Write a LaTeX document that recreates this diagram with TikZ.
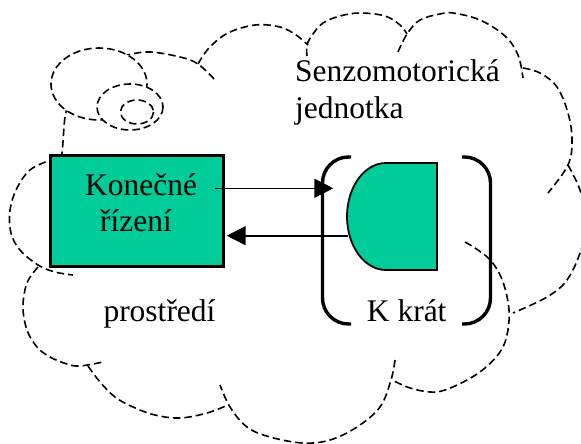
\documentclass[tikz,border=0pt]{standalone}
\usepackage{fontspec}
\setmainfont{Liberation Serif}
\usetikzlibrary{arrows.meta}
\definecolor{mygreen}{RGB}{0,204,153}
\begin{document}
\begin{tikzpicture}[x=1pt,y=-1pt,
  cloudline/.style={line width=1.6pt, dash pattern=on 7.5pt off 4pt},
  bubble/.style={cloudline, fill=white},
  lbl/.style={font=\fontsize{31.5}{36}\selectfont, inner sep=0pt, anchor=base west},
  bracketline/.style={line width=3.4pt, rounded corners=26pt},
  conn/.style={line width=1.6pt, -{Triangle[length=19pt,width=19pt]}},
  gshape/.style={fill=mygreen, draw=black}
]
\useasboundingbox (0,0) rectangle (581,444);

% cloud lobes
\draw[cloudline] plot[smooth, tension=0.6] coordinates {(112,60) (127,55) (150,52) (180,57) (198,64) (215,80)};
\draw[cloudline] plot[smooth, tension=0.6] coordinates {(198,64) (209,48) (228,33) (255,25) (280,27) (296,35) (308,45)};
\draw[cloudline] plot[smooth, tension=0.6] coordinates {(307,56) (307,45) (313,34) (323,23) (340,16) (360,13) (385,16) (400,25) (407,34)};
\draw[cloudline] plot[smooth, tension=0.6] coordinates {(398,52) (407,34) (420,20) (440,14) (453,13) (480,20) (505,36) (518,55) (523,78)};
\draw[cloudline] plot[smooth, tension=0.6] coordinates {(523,68) (540,73) (557,87) (568,113) (572,140) (568,165) (548,193)};
\draw[cloudline] plot[smooth, tension=0.6] coordinates {(568,165) (580,190) (586,220) (581,250) (567,280) (547,297) (513,313)};
\draw[cloudline] plot[smooth, tension=0.6] coordinates {(465,242) (478,250) (492,262) (503,282) (509,310) (507,335) (500,352) (485,368) (467,380) (445,390) (430,392) (410,388) (392,380)};
\draw[cloudline] plot[smooth, tension=0.6] coordinates {(395,360) (391,380) (380,407) (357,427) (330,440) (303,443) (270,437) (247,427) (230,407) (220,385)};
\draw[cloudline] plot[smooth, tension=0.6] coordinates {(88,366) (100,382) (115,397) (133,407) (155,415) (180,418) (207,413) (228,405)};
\draw[cloudline] plot[smooth, tension=0.6] coordinates {(38,267) (27,283) (23,307) (27,330) (37,347) (50,357) (67,364) (80,366) (103,362)};
\draw[cloudline] plot[smooth, tension=0.6] coordinates {(56,157) (50,160) (30,170) (17,188) (10,210) (11,233) (20,250) (38,265) (55,272) (73,275)};
\draw[cloudline] plot[smooth, tension=0.6] coordinates {(58,170) (62,153) (65,117) (70,100)};

% callout bubbles
\draw[bubble] (99,84) ellipse [x radius=48, y radius=36];
\draw[bubble] (130,107) ellipse [x radius=33, y radius=23];
\draw[bubble] (137,112) ellipse [x radius=16.5, y radius=12];

% brackets
\draw[bracketline] (351,157) -- (322.5,157) -- (322.5,324) -- (351,324);
\draw[bracketline] (462,157) -- (490.5,157) -- (490.5,324) -- (462,324);

% D shape
\draw[gshape, line width=1.8pt] (437,163) -- (386,163)
  .. controls (364.5,163) and (347,187) .. (347,216.5)
  .. controls (347,246) and (364.5,270) .. (386,270) -- (437,270) -- cycle;

% control box
\node[gshape, line width=2.6pt, minimum width=172.8pt, minimum height=111.2pt, inner sep=0pt, outer sep=0pt] (ctrl) at (137.1,211.1) {};

% connectors
\coordinate (a1s) at (215,188.3);
\coordinate (a1e) at (333.3,188.3);
\coordinate (a2s) at (348,235.7);
\coordinate (a2e) at (226.7,235.7);
\draw[conn] (a1s) -- (a1e);
\draw[conn] (a2s) -- (a2e);

% labels
\node[lbl] (t1) at (295,81.7) {Senzomotorická};
\node[lbl] (t2) at (295,118.3) {jednotka};
\node[lbl] (t3) at (85,195) {Konečné};
\node[lbl] (t4) at (100,231.7) {řízení};
\node[lbl] (t5) at (103.3,321.7) {prostředí};
\node[lbl] (t6) at (366.7,321.7) {K krát};
\end{tikzpicture}
\end{document}
